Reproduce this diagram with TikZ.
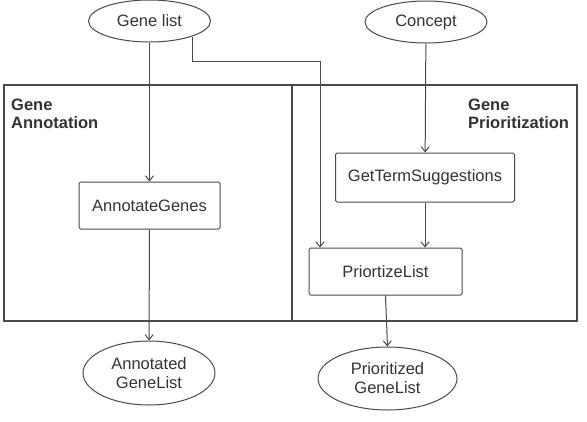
\documentclass[tikz,border=0pt]{standalone}
\usepackage{fontspec}
\setmainfont{Liberation Sans}
\usetikzlibrary{positioning,arrows.meta,shapes.geometric}

\definecolor{linegray}{HTML}{4A4A4A}
\definecolor{textgray}{HTML}{333333}

\begin{document}
\begin{tikzpicture}[x=1pt,y=-1pt,
    data/.style={ellipse,draw=linegray,line width=1pt,inner sep=0pt,text=textgray,align=center,font=\fontsize{16.5}{19}\selectfont},
    proc/.style={rectangle,draw=linegray,line width=1pt,rounded corners=1.5pt,inner sep=0pt,text=textgray,font=\fontsize{16.5}{19}\selectfont},
    panel/.style={rectangle,draw=linegray,line width=1.1pt,inner sep=0pt},
    panellabel/.style={inner sep=0pt,align=left,text=textgray,font=\bfseries\fontsize{16.5}{18}\selectfont},
    flow/.style={draw=linegray,line width=1pt,-{Straight Barb[length=5pt,width=8pt]}}]
  \useasboundingbox (0,0) rectangle (587,421);
  % the two panels
  \node[panel,minimum width=288,minimum height=236] (annotpanel) at (148,203) {};
  \node[panel,minimum width=285,minimum height=236] (priopanel) at (434.5,203) {};
  \node[panellabel,anchor=north west] (annotlabel) at (11,99) {Gene\\Annotation};
  \node[panellabel,anchor=north west] (priolabel) at (468,99) {Gene\\Prioritization};
  % inputs
  \node[data,minimum width=122,minimum height=42] (genelist) at (149.5,21) {Gene list};
  \node[data,minimum width=122,minimum height=42] (concept) at (426,22) {Concept};
  % processes
  \node[proc,minimum width=141,minimum height=47] (annotate) at (149.5,205.5) {AnnotateGenes};
  \node[proc,minimum width=179,minimum height=49] (getterms) at (425,177.5) {GetTermSuggestions};
  \node[proc,minimum width=153,minimum height=47] (prioritize) at (385.5,271.5) {PriortizeList};
  % outputs
  \node[data,minimum width=132,minimum height=64] (annotated) at (149,373) {Annotated\\GeneList};
  \node[data,minimum width=139,minimum height=63] (prioritized) at (387.5,378.5) {Prioritized\\GeneList};
  % connectors
  \coordinate (bend) at (320,61);
  \draw[flow] (genelist) -- (annotate);
  \draw[flow] (annotate) -- (annotated);
  \draw[flow] (genelist.-20) |- (bend) -- (bend |- prioritize.north);
  \draw[flow] (concept) -- (getterms);
  \draw[flow] (getterms) -- (getterms |- prioritize.north);
  \draw[flow] (prioritize.south) -- (prioritized.north);
\end{tikzpicture}
\end{document}
